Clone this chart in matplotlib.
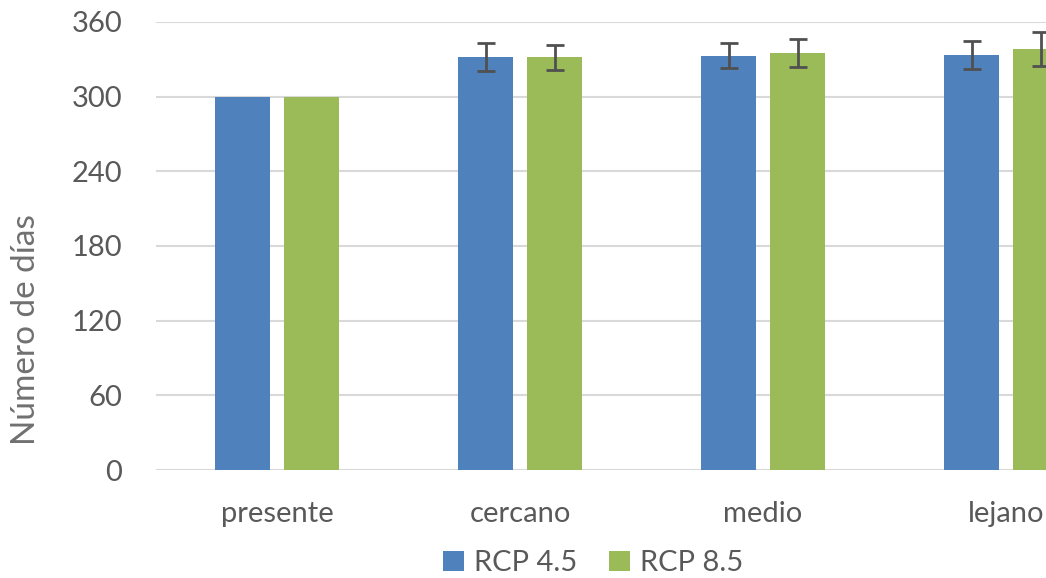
import numpy as np
import matplotlib
matplotlib.use("Agg")
import matplotlib.pyplot as plt
from matplotlib.patches import Patch

# Number of days per period under two emission scenarios
periods = ["presente", "cercano", "medio", "lejano"]
series_names = ["RCP 4.5", "RCP 8.5"]
rcp45 = [300, 332, 333, 333.5]
rcp85 = [300, 331.5, 335, 338.5]
rcp45_err = [0, 11.5, 10, 11.5]
rcp85_err = [0, 10, 11.5, 13.5]
yticks = [0, 60, 120, 180, 240, 300, 360]

plt.rcParams["font.family"] = ["Lato", "DejaVu Sans"]
text_color = "#595959"
colors = ["#4F81BD", "#9BBB59"]

fig = plt.figure(figsize=(10.46, 5.78), dpi=100)
ax = fig.add_axes([0.1487, 0.18685, 0.9293, 0.7751])

x = np.arange(len(periods))
width = 0.224
offset = 0.142

for vals, errs, col, sgn in [(rcp45, rcp45_err, colors[0], -1),
                             (rcp85, rcp85_err, colors[1], 1)]:
    xs = x + sgn * offset
    ax.bar(xs, vals, width=width, color=col, zorder=2)
    # projections carry an uncertainty range; the present period does not
    ax.errorbar(xs[1:], vals[1:], yerr=errs[1:], fmt="none",
                ecolor="#505050", elinewidth=2.0, capsize=6.5,
                capthick=2.0, zorder=3)

ax.set_xlim(-0.5, len(periods) - 0.5)
ax.set_ylim(0, 360)
ax.set_yticks(yticks)
ax.set_yticklabels([str(v) for v in yticks])
ax.set_xticks(x)
ax.set_xticklabels(periods)
ax.yaxis.grid(True, color="#d9d9d9", linewidth=1.5, zorder=0)
ax.set_axisbelow(True)
for s in ax.spines.values():
    s.set_visible(False)
ax.tick_params(axis="both", length=0, labelsize=21, labelcolor=text_color)
ax.tick_params(axis="y", pad=24)
ax.tick_params(axis="x", pad=22)

fig.text(0.025, 0.429, "Número de días", rotation=90, ha="center",
         va="center", fontsize=24, color="#707070")

handles = [Patch(facecolor=c, edgecolor="none") for c in colors]
fig.legend(handles, series_names, loc="center", bbox_to_anchor=(0.567, 0.026),
           ncol=2, frameon=False, fontsize=21, labelcolor=text_color,
           handlelength=0.7, handleheight=0.7, handletextpad=0.35,
           columnspacing=1.1, borderpad=0.1)

fig.savefig("out.png", dpi=100, facecolor="white")
